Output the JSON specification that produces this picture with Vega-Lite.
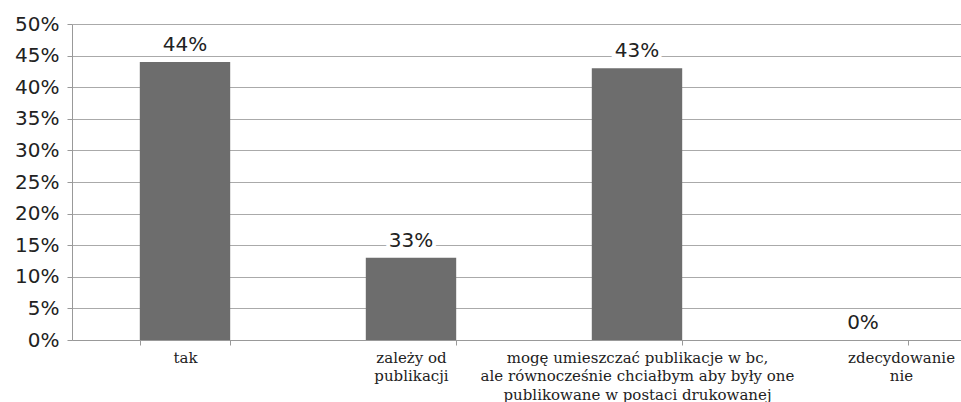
{
  "$schema": "https://vega.github.io/schema/vega-lite/v6.json",
  "autosize": {"type": "none"},
  "padding": {"left": 72, "top": 24, "right": 0, "bottom": 62},
  "width": 904,
  "height": 316,
  "background": "white",
  "config": {"view": {"stroke": null}},
  "data": {
    "values": [
      {"kategoria": "tak", "wartosc": 0.44, "etykieta": "44%"},
      {"kategoria": "zależy od|publikacji", "wartosc": 0.13, "etykieta": "33%"},
      {"kategoria": "mogę umieszczać publikacje w bc,|ale równocześnie chciałbym aby były one|publikowane w postaci drukowanej", "wartosc": 0.43, "etykieta": "43%"},
      {"kategoria": "zdecydowanie|nie", "wartosc": 0.0, "etykieta": "0%"}
    ]
  },
  "encoding": {
    "x": {
      "field": "kategoria", "type": "nominal", "sort": null,
      "scale": {"paddingInner": 0.6, "paddingOuter": 0.3},
      "axis": {
        "title": null, "labelAngle": 0, "tickBand": "extent",
        "labelExpr": "split(datum.label, '|')",
        "labelOffset": {"condition": {"test": "datum.index > 0.9", "value": 38}, "value": 0},
        "labelFont": "DejaVu Serif", "labelFontSize": 15, "labelColor": "#222",
        "labelLineHeight": 18.5, "labelPadding": 5, "labelLimit": 400,
        "domainColor": "#999", "tickColor": "#999", "tickSize": 5,
        "labelBaseline": "top"
      }
    },
    "y": {
      "field": "wartosc", "type": "quantitative",
      "scale": {"domain": [0, 0.5], "nice": false},
      "axis": {
        "title": null, "format": ".0%",
        "values": [0, 0.05, 0.1, 0.15, 0.2, 0.25, 0.3, 0.35, 0.4, 0.45, 0.5],
        "labelFont": "DejaVu Sans", "labelFontSize": 20, "labelColor": "#222",
        "labelPadding": 8, "tickSize": 5,
        "domainColor": "#999", "tickColor": "#999",
        "gridColor": "#aaa", "gridWidth": 1.2, "gridOpacity": 1
      }
    }
  },
  "layer": [
    {"mark": {"type": "bar", "color": "#6d6d6d"}},
    {
      "mark": {"type": "text", "baseline": "bottom", "dy": -7, "fontSize": 20, "font": "DejaVu Sans", "stroke": "white", "strokeWidth": 8, "color": "white"},
      "encoding": {"text": {"field": "etykieta"}}
    },
    {
      "mark": {"type": "text", "baseline": "bottom", "dy": -7, "fontSize": 20, "font": "DejaVu Sans", "color": "#222"},
      "encoding": {"text": {"field": "etykieta"}}
    }
  ]
}
